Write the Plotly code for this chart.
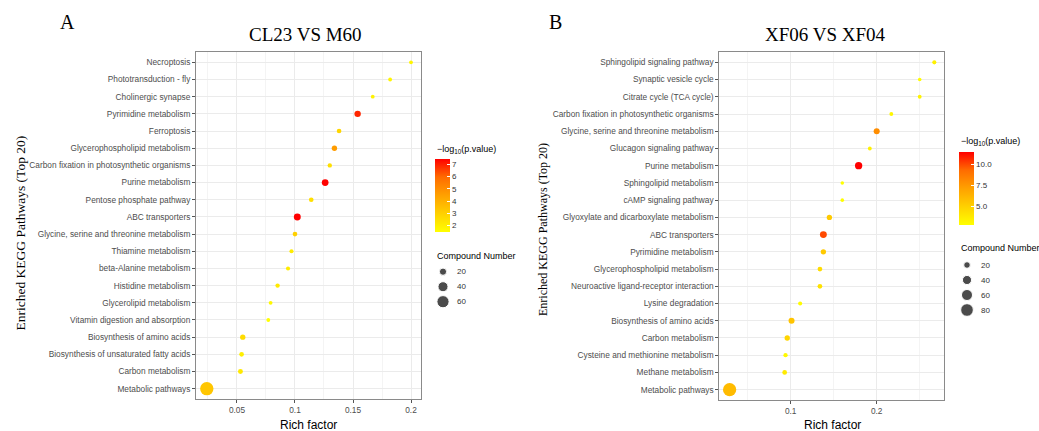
import plotly.graph_objects as go

W, H = 1039, 431

# ---------------- data: panel A (CL23 VS M60) ----------------
a_pathways = [
    "Necroptosis", "Phototransduction - fly", "Cholinergic synapse",
    "Pyrimidine metabolism", "Ferroptosis", "Glycerophospholipid metabolism",
    "Carbon fixation in photosynthetic organisms", "Purine metabolism",
    "Pentose phosphate pathway", "ABC transporters",
    "Glycine, serine and threonine metabolism", "Thiamine metabolism",
    "beta-Alanine metabolism", "Histidine metabolism", "Glycerolipid metabolism",
    "Vitamin digestion and absorption", "Biosynthesis of amino acids",
    "Biosynthesis of unsaturated fatty acids", "Carbon metabolism",
    "Metabolic pathways",
]
a_rich = [0.200, 0.182, 0.167, 0.154, 0.138, 0.134, 0.130, 0.126, 0.114, 0.102,
          0.100, 0.097, 0.094, 0.085, 0.079, 0.077, 0.055, 0.054, 0.053, 0.024]
a_logp = [1.8, 1.8, 1.9, 6.9, 2.8, 4.6, 2.5, 7.4, 2.5, 7.43,
          3.0, 2.1, 2.1, 2.2, 1.7, 1.48, 2.6, 2.0, 2.2, 3.3]
a_count = [4, 4, 4, 15, 7, 10, 6, 17, 7, 18, 7, 5, 5, 6, 4, 4, 10, 7, 8, 72]
a_size_legend = [20, 40, 60]

# ---------------- data: panel B (XF06 VS XF04) ----------------
b_pathways = [
    "Sphingolipid signaling pathway", "Synaptic vesicle cycle",
    "Citrate cycle (TCA cycle)", "Carbon fixation in photosynthetic organisms",
    "Glycine, serine and threonine metabolism", "Glucagon signaling pathway",
    "Purine metabolism", "Sphingolipid metabolism", "cAMP signaling pathway",
    "Glyoxylate and dicarboxylate metabolism", "ABC transporters",
    "Pyrimidine metabolism", "Glycerophospholipid metabolism",
    "Neuroactive ligand-receptor interaction", "Lysine degradation",
    "Biosynthesis of amino acids", "Carbon metabolism",
    "Cysteine and methionine metabolism", "Methane metabolism",
    "Metabolic pathways",
]
b_rich = [0.267, 0.250, 0.250, 0.217, 0.200, 0.192, 0.179, 0.160, 0.160, 0.145,
          0.138, 0.138, 0.134, 0.134, 0.111, 0.101, 0.096, 0.094, 0.093, 0.029]
b_logp = [3.5, 3.0, 3.4, 3.2, 8.0, 3.5, 11.49, 2.84, 2.9, 5.3,
          10.0, 5.3, 4.5, 4.2, 3.0, 5.6, 4.8, 3.1, 3.8, 6.0]
b_count = [6, 4, 5, 5, 16, 5, 25, 4, 4, 12, 22, 12, 9, 9, 6, 16, 12, 7, 9, 88]
b_size_legend = [20, 40, 60, 80]

# ---------------- styling helpers ----------------
SANS = "Liberation Sans, Arial, sans-serif"
SERIF = "Liberation Serif, Times New Roman, serif"
COLORSCALE = [[0.0, "#FFFF00"], [0.25, "#FFD100"], [0.5, "#FFA100"],
              [0.75, "#FF6C00"], [1.0, "#FF0000"]]


def px_x(x):
    return x / W


def px_y(y):
    return 1 - y / H


def size_a(n):
    return (2.4 * n + 5) ** 0.5


def size_b(n):
    return (1.95 * n + 5) ** 0.5


fig = go.Figure()

fig.add_trace(go.Scatter(
    x=a_rich, y=a_pathways, mode="markers", xaxis="x", yaxis="y",
    marker=dict(size=[size_a(n) for n in a_count], color=a_logp,
                coloraxis="coloraxis", line=dict(width=0), opacity=1),
    showlegend=False, hoverinfo="x+y"))

fig.add_trace(go.Scatter(
    x=b_rich, y=b_pathways, mode="markers", xaxis="x2", yaxis="y2",
    marker=dict(size=[size_b(n) for n in b_count], color=b_logp,
                coloraxis="coloraxis2", line=dict(width=0), opacity=1),
    showlegend=False, hoverinfo="x+y"))

# size legends
fig.add_trace(go.Scatter(
    x=[0] * len(a_size_legend), y=a_size_legend, mode="markers",
    xaxis="x3", yaxis="y3",
    marker=dict(size=[size_a(n) for n in a_size_legend], color="black"),
    showlegend=False, hoverinfo="skip"))
fig.add_trace(go.Scatter(
    x=[0] * len(b_size_legend), y=b_size_legend, mode="markers",
    xaxis="x4", yaxis="y4",
    marker=dict(size=[size_b(n) for n in b_size_legend], color="black"),
    showlegend=False, hoverinfo="skip"))

grid_major = "#EBEBEB"
grid_minor = "#F4F4F4"
border = "#8A8A8A"


def xaxis_cfg(domain, rng, dtick, minor_dtick):
    return dict(domain=domain, range=rng, tickmode="linear", tick0=0, dtick=dtick,
                showgrid=True, gridcolor=grid_major, gridwidth=1.1,
                minor=dict(dtick=minor_dtick, tick0=0, showgrid=True,
                           gridcolor=grid_minor, gridwidth=0.6, ticks=""),
                showline=True, linecolor=border, linewidth=1, mirror=True,
                ticks="outside", ticklen=3, tickcolor="#555", tickwidth=1,
                tickfont=dict(family=SANS, size=8.3, color="#4D4D4D"),
                zeroline=False, fixedrange=True)


def yaxis_cfg(domain, cats, anchor):
    return dict(domain=domain, type="category", categoryorder="array",
                categoryarray=cats, range=[len(cats) - 0.4, -0.6], anchor=anchor,
                showgrid=True, gridcolor=grid_major, gridwidth=1.1,
                showline=True, linecolor=border, linewidth=1, mirror=True,
                ticks="outside", ticklen=3, tickcolor="#555", tickwidth=1,
                tickfont=dict(family=SANS, size=8.3, color="#4D4D4D"),
                zeroline=False, fixedrange=True)


def colorbar_cfg(x, ytop, length):
    return dict(x=px_x(x), xanchor="left", y=px_y(ytop), yanchor="top",
                len=length, lenmode="pixels", thickness=14.6,
                thicknessmode="pixels", xpad=0, ypad=0, outlinewidth=0,
                ticks="inside", ticklen=3, tickcolor="white", tickwidth=1,
                tickfont=dict(family=SANS, size=8, color="#333"),
                title=dict(text=""))


cb_a = colorbar_cfg(434.7, 159, 72.7)
cb_a.update(tickmode="linear", tick0=0, dtick=1)
cb_b = colorbar_cfg(959, 151.7, 73.3)
cb_b.update(tickmode="linear", tick0=0, dtick=2.5, tickformat=".1f")

fig.update_layout(
    width=W, height=H,
    margin=dict(l=0, r=0, t=0, b=0),
    paper_bgcolor="white", plot_bgcolor="white",
    xaxis=xaxis_cfg([px_x(196), px_x(421)], [0.0147, 0.2086], 0.05, 0.025),
    yaxis=yaxis_cfg([px_y(399), px_y(52)], a_pathways, "x"),
    xaxis2=xaxis_cfg([px_x(719.3), px_x(944.3)], [0.017, 0.2786], 0.1, 0.05),
    yaxis2=yaxis_cfg([px_y(400), px_y(52)], b_pathways, "x2"),
    xaxis3=dict(domain=[px_x(436), px_x(450)], range=[-1, 1], visible=False,
                anchor="y3", fixedrange=True),
    yaxis3=dict(domain=[px_y(316.7), px_y(256.7)], range=[80, 0], visible=False,
                anchor="x3", fixedrange=True),
    xaxis4=dict(domain=[px_x(960), px_x(974)], range=[-1, 1], visible=False,
                anchor="y4", fixedrange=True),
    yaxis4=dict(domain=[px_y(325), px_y(250)], range=[100, 0], visible=False,
                anchor="x4", fixedrange=True),
    coloraxis=dict(colorscale=COLORSCALE, colorbar=cb_a),
    coloraxis2=dict(colorscale=COLORSCALE, colorbar=cb_b),
)
fig.layout.xaxis2.anchor = "y2"

ann = []


def add_text(text, x, y, size, family, color="black", angle=0, xanchor="center"):
    ann.append(dict(text=text, x=px_x(x), y=px_y(y), xref="paper", yref="paper",
                    showarrow=False, xanchor=xanchor, yanchor="middle",
                    textangle=angle, font=dict(family=family, size=size, color=color)))


add_text("A", 67, 22.5, 20, SERIF)
add_text("B", 555, 22.5, 20, SERIF)
add_text("CL23 VS M60", 305.5, 34.5, 19, SERIF)
add_text("XF06 VS XF04", 825.5, 35, 19, SERIF)
add_text("Enriched KEGG Pathways (Top 20)", 19.5, 233, 13.5, SERIF, angle=-90)
add_text("Enriched KEGG Pathways (Top 20)", 543, 230, 12, SERIF, angle=-90)
add_text("Rich factor", 308.5, 424.7, 12, SANS)
add_text("Rich factor", 832, 425.3, 12, SANS)
add_text("\u2212log<sub>10</sub>(p.value)", 434.7, 149.3, 9, SANS, xanchor="left")
add_text("\u2212log<sub>10</sub>(p.value)", 959, 141.7, 9, SANS, xanchor="left")
add_text("Compound Number", 434.7, 255.7, 9, SANS, xanchor="left")
add_text("Compound Number", 959, 248, 9, SANS, xanchor="left")

for v in a_size_legend:
    ann.append(dict(text=str(v), x=px_x(455), y=v, xref="paper", yref="y3",
                    showarrow=False, xanchor="left", yanchor="middle",
                    font=dict(family=SANS, size=8, color="#333")))
for v in b_size_legend:
    ann.append(dict(text=str(v), x=px_x(979), y=v, xref="paper", yref="y4",
                    showarrow=False, xanchor="left", yanchor="middle",
                    font=dict(family=SANS, size=8, color="#333")))

fig.update_layout(annotations=ann)

fig.write_html(
    "out.html",
    config={"displayModeBar": False},
    post_script="document.body.style.margin='0px';document.body.style.overflow='hidden';",
)
